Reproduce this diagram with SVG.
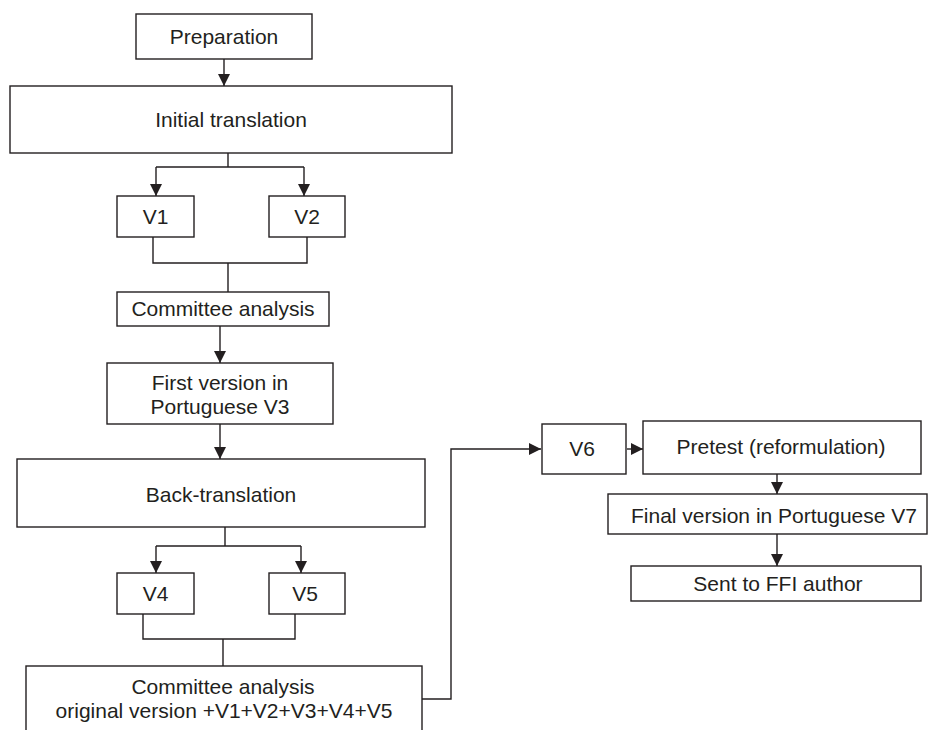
<svg xmlns="http://www.w3.org/2000/svg" width="929" height="730" viewBox="0 0 929 730">
<defs>
<style>
.box{fill:#fff;stroke:#231f20;stroke-width:1.4}
.ln{fill:none;stroke:#231f20;stroke-width:1.4}
text{font-family:"Liberation Sans",Arial,sans-serif;font-size:21px;fill:#231f20;text-anchor:middle}
</style>
<marker id="ah" markerUnits="userSpaceOnUse" markerWidth="12" markerHeight="12" viewBox="0 0 12 12" refX="12" refY="6" orient="auto">
<path d="M0,0 L12,6 L0,12 Z" fill="#231f20"/>
</marker>
</defs>
<rect width="929" height="730" fill="#fff"/>
<g id="connectors">
<path class="ln" d="M224,59 V86" marker-end="url(#ah)"/>
<path class="ln" d="M228,153 V167 M156,167 H304"/>
<path class="ln" d="M156,167 V196" marker-end="url(#ah)"/>
<path class="ln" d="M304,167 V196" marker-end="url(#ah)"/>
<path class="ln" d="M153,237 V263 H307 V237 M228,263 V292"/>
<path class="ln" d="M220,326 V363" marker-end="url(#ah)"/>
<path class="ln" d="M220,424 V459" marker-end="url(#ah)"/>
<path class="ln" d="M225,527 V546 M156,546 H301"/>
<path class="ln" d="M156,546 V573" marker-end="url(#ah)"/>
<path class="ln" d="M301,546 V573" marker-end="url(#ah)"/>
<path class="ln" d="M143,614 V639 H295 V614 M223,639 V666"/>
<path class="ln" d="M422,699 H451 V449 H541" marker-end="url(#ah)"/>
<path class="ln" d="M627,449 H643" marker-end="url(#ah)"/>
<path class="ln" d="M777,474 V494" marker-end="url(#ah)"/>
<path class="ln" d="M777,534 V566" marker-end="url(#ah)"/>
</g>
<g id="preparation"><rect class="box" x="136" y="14" width="176" height="45"/><text x="224" y="44">Preparation</text></g>
<g id="initial"><rect class="box" x="10" y="86" width="442" height="67"/><text x="231" y="127">Initial translation</text></g>
<g id="v1"><rect class="box" x="117" y="196" width="77" height="41"/><text x="155.5" y="224">V1</text></g>
<g id="v2"><rect class="box" x="269" y="196" width="76" height="41"/><text x="307" y="224">V2</text></g>
<g id="committee1"><rect class="box" x="117" y="292" width="212" height="34"/><text x="223" y="316">Committee analysis</text></g>
<g id="first"><rect class="box" x="107" y="363" width="226" height="61"/><text x="220" y="390">First version in</text><text x="220" y="414">Portuguese V3</text></g>
<g id="back"><rect class="box" x="17" y="459" width="408" height="68"/><text x="221" y="502">Back-translation</text></g>
<g id="v4"><rect class="box" x="117" y="573" width="77" height="41"/><text x="155.5" y="601">V4</text></g>
<g id="v5"><rect class="box" x="269" y="573" width="76" height="41"/><text x="305" y="601">V5</text></g>
<g id="committee2"><rect class="box" x="26" y="666" width="396" height="80"/><text x="223" y="694">Committee analysis</text><text x="224" y="718">original version +V1+V2+V3+V4+V5</text></g>
<g id="v6"><rect class="box" x="542" y="424" width="84" height="50"/><text x="582" y="456">V6</text></g>
<g id="pretest"><rect class="box" x="643" y="421" width="278" height="53"/><text x="781" y="454">Pretest (reformulation)</text></g>
<g id="final"><rect class="box" x="608" y="494" width="319" height="40"/><text x="774" y="523">Final version in Portuguese V7</text></g>
<g id="sent"><rect class="box" x="631" y="566" width="290" height="35"/><text x="778" y="591">Sent to FFI author</text></g>
</svg>
